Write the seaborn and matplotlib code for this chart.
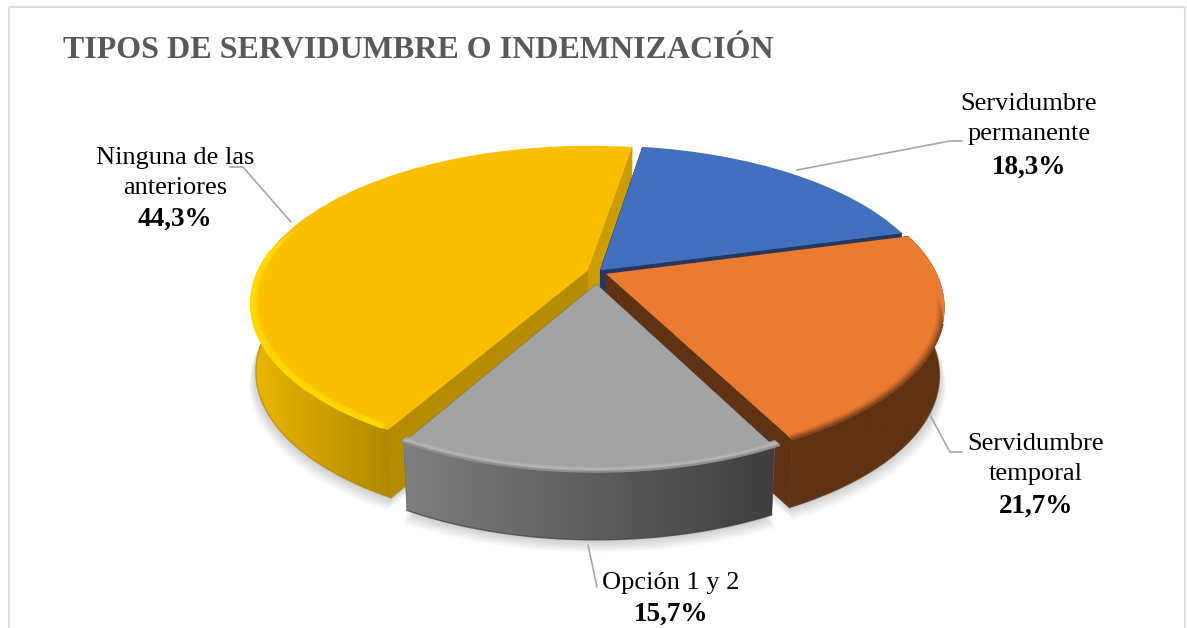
import numpy as np
import seaborn as sns
import matplotlib
matplotlib.use("Agg")
import matplotlib.pyplot as plt
from matplotlib.colors import LinearSegmentedColormap, to_rgb
from matplotlib.patches import Polygon, Rectangle
from matplotlib.transforms import Transform

# ---- data ----
categories = ["Servidumbre\npermanente", "Servidumbre\ntemporal", "Opción 1 y 2", "Ninguna de las\nanteriores"]
values = [18.3, 21.7, 15.7, 44.3]
title = "TIPOS DE SERVIDUMBRE O INDEMNIZACIÓN"

# ---- style ----
W, H = 1187, 628
CX, CY = 597, 272
RX, RY, PERSP = 330, 151, 0.206
DEPTH, SHRINK = 68, 0.985

top_colors = sns.color_palette(["#4270BF", "#EB7B30", "#A3A3A3", "#FBBF00"])
# wall gradient left -> right
wall_colors = [("#1F3864", "#1F3864"), ("#5F3213", "#5F3213"), ("#7E7E7E", "#3E3E3E"), ("#EDB600", "#B08800")]
# radial walls: theta1 side, theta2 side
edge_colors = [("#1F3864", "#1F3864"), ("#5F3213", "#5F3213"), ("#6A6A6A", "#6A6A6A"), ("#CC9D00", "#B58B00")]
explode = [0.015, 0.03, 0.08, 0.03]
slice_radius = [1, 1, 0.96, 1]
paint_order = [2, 3, 4, 1]
# soft rim on the top face: colours from inside to the edge
bevel_ramp = [
    None,
    ["#EB7B30", "#D56E2B", "#AE5C26", "#85461C"],
    ["#A3A3A3", "#AFAFAF", "#B8B8B8", "#8E8E8E"],
    ["#FBBF00", "#FFD000", "#FFD900", "#FFD900"],
]
bevel_span = [None, (-63, -6), (-120, -62), (-200, -120.5)]
BEVEL_WIDTH = 0.022

label_pos = [(1029, 104, 167), (1036, 444, 506), (671, 583, 614), (175, 158, 219)]
leaders = [
    [(797, 170), (950, 141), (962, 141)],
    [(930, 415), (950, 452), (962, 452)],
    [(588, 545), (597, 587)],
    [(230, 167), (243, 167), (291, 222)],
]


class TiltTransform(Transform):
    """Unit disk -> image pixels, seen from above with some perspective."""
    input_dims = 2
    output_dims = 2
    is_separable = False
    has_inverse = False

    def transform_non_affine(self, values):
        xy = np.asarray(values, dtype=float)
        w = 1 + PERSP * xy[:, 1]
        return np.column_stack([CX + RX * xy[:, 0] / w, CY - RY * xy[:, 1] / w])


sns.set_theme(style="white")
plt.rcParams["font.family"] = ["Liberation Serif", "DejaVu Serif"]

fig = plt.figure(figsize=(W / 100, H / 100), dpi=100)
ax = fig.add_axes([0, 0, 1, 1])

wedges, _ = ax.pie(
    values,
    colors=top_colors,
    startangle=81,
    counterclock=False,
    explode=explode,
    radius=1,
    frame=True,
)
ax.set_aspect("auto")

tilt = TiltTransform()


def rim(w, r=1.0, span=None, n=120):
    t1, t2 = span if span else (w.theta1, w.theta2)
    t = np.radians(np.linspace(t1, t2, n))
    disk = np.column_stack([
        w.center[0] + r * w.r * np.cos(t),
        w.center[1] + r * w.r * np.sin(t),
    ])
    return tilt.transform(disk)


def drop(pts, extra=0.0):
    out = pts.copy()
    out[:, 0] = CX + (out[:, 0] - CX) * SHRINK
    out[:, 1] = out[:, 1] + DEPTH + extra
    return out


for i, w in enumerate(wedges):
    w.set_radius(slice_radius[i])
    base = paint_order[i]
    tip = tilt.transform(np.array([w.center]))
    arc = rim(w)

    # soft shadow under the slice
    for s in range(1, 9):
        low = drop(np.vstack([tip, arc]), extra=s * 1.6)
        low[:, 0] = CX + (low[:, 0] - CX) * (1 + s * 0.0025)
        ax.add_patch(Polygon(low, closed=True, fc="black", ec="none", alpha=0.022, zorder=0.5))

    # radial walls
    for end, col in zip((arc[0], arc[-1]), edge_colors[i]):
        quad = np.vstack([tip, end[None, :], drop(end[None, :]), drop(tip)])
        ax.add_patch(Polygon(quad, closed=True, fc=col, ec=col, lw=0.5, zorder=base + 0.05))

    # outer wall, only the part facing the viewer
    t = np.linspace(w.theta1, w.theta2, 120)
    front = arc[np.sin(np.radians(t)) < 0.25]
    if len(front) > 1:
        wall = np.vstack([front, drop(front)[::-1]])
        clip = Polygon(wall, closed=True, transform=ax.transData)
        cmap = LinearSegmentedColormap.from_list("wall", wall_colors[i])
        x0, x1 = wall[:, 0].min(), wall[:, 0].max()
        y0, y1 = wall[:, 1].min(), wall[:, 1].max()
        im = ax.imshow(
            np.linspace(0, 1, 256)[None, :],
            cmap=cmap,
            extent=(x0, x1, y1, y0),
            aspect="auto",
            zorder=base + 0.1,
        )
        im.set_clip_path(clip)

        # dark lip at the foot of the wall
        foot = drop(front)
        ax.plot(foot[:, 0], foot[:, 1], color=wall_colors[i][1], lw=1, alpha=0.7, zorder=base + 0.3)

    # top face is the pie wedge itself
    w.set_transform(tilt + ax.transData)
    w.set_zorder(base + 0.5)
    w.set_edgecolor("none")

    # rim: rings from inside out, each a bit shorter so the far end fades away
    if bevel_ramp[i]:
        ramp = np.array([to_rgb(c) for c in bevel_ramp[i]])
        t1, t2 = bevel_span[i]
        steps = 10
        for k in range(steps):
            f = k / (steps - 1)
            col = [np.interp(f * (len(ramp) - 1), range(len(ramp)), ramp[:, c]) for c in range(3)]
            r = 1 - BEVEL_WIDTH * (1 - f)
            # orange and yellow fade towards the back, grey runs corner to corner
            if i == 3:
                a, b = t1 + f * 12, t2
            elif i == 1:
                a, b = t1, t2 - f * 12
            else:
                a, b = t1, t2
            edge = rim(w, r=r, span=(a, b))
            ax.plot(edge[:, 0], edge[:, 1], color=col, lw=1.3, solid_capstyle="butt", zorder=base + 0.6)

# ---- labels ----
for name, val, (x, y_name, y_val) in zip(categories, values, label_pos):
    for k, line in enumerate(name.split("\n")):
        ax.text(x, y_name + k * 30, line, ha="center", va="center", fontsize=19, color="black", zorder=10)
    ax.text(x, y_val, f"{val:.1f}".replace(".", ",") + "%", ha="center", va="center",
            fontsize=19.5, fontweight="bold", color="black", zorder=10)

for pts in leaders:
    xs, ys = zip(*pts)
    ax.plot(xs, ys, color="#A6A6A6", lw=1.2, zorder=9)

ax.text(63, 51, title, ha="left", va="center", fontsize=23, fontweight="bold", color="#595959", zorder=10)

# chart border, runs past the bottom of the image
ax.add_patch(Rectangle((9, 7), 1176, 640, fc="none", ec="#DEDEDE", lw=1.5, zorder=0.2))

ax.set_xlim(0, W)
ax.set_ylim(H, 0)
ax.set_xticks([])
ax.set_yticks([])
for spine in ax.spines.values():
    spine.set_visible(False)

fig.savefig("out.png", dpi=100, facecolor="white")
